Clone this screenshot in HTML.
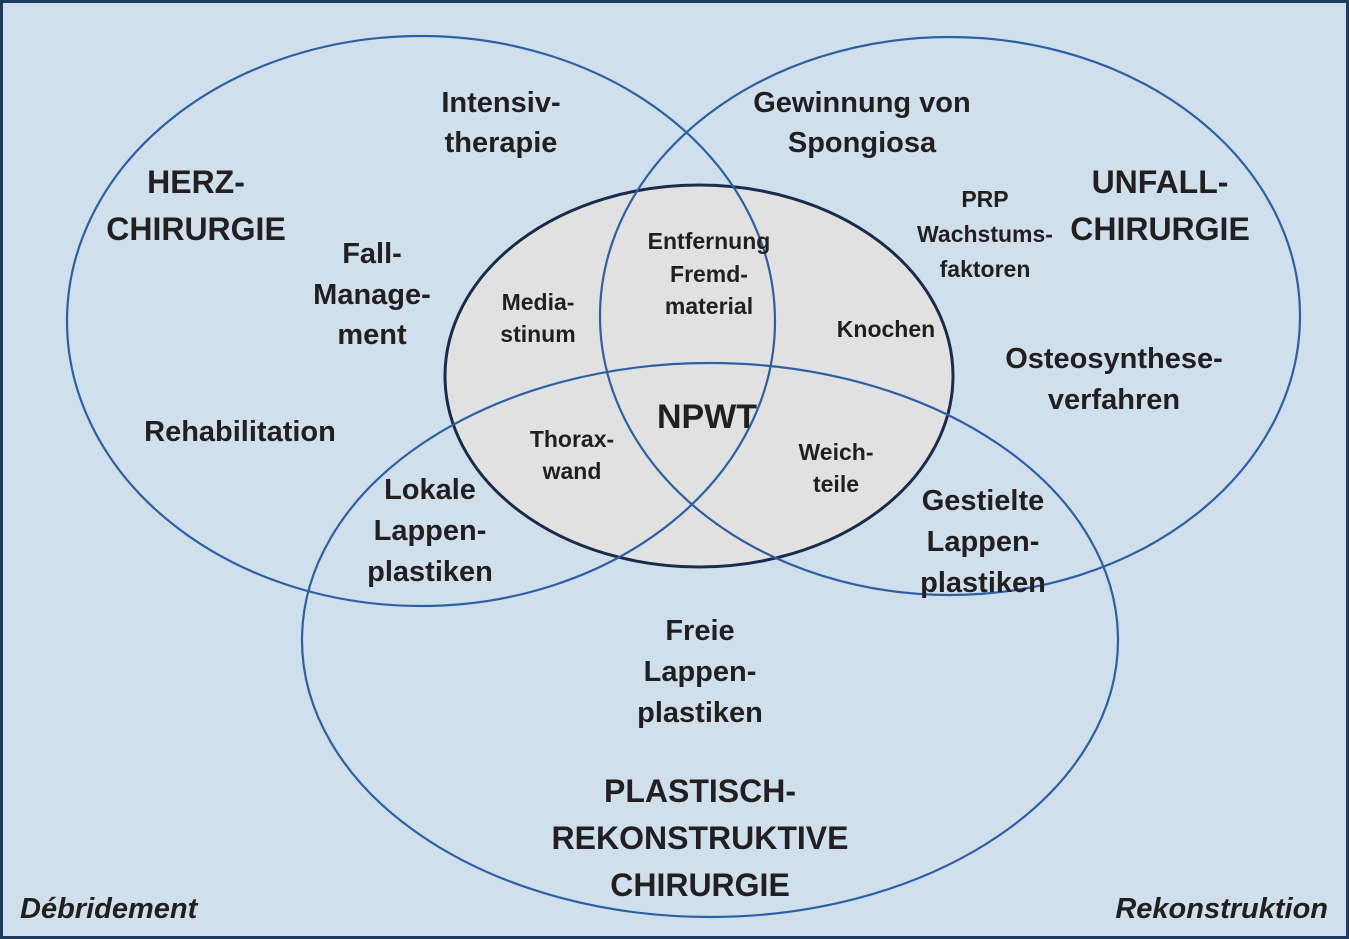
<!DOCTYPE html>
<html><head><meta charset="utf-8"><style>
html,body{margin:0;padding:0;background:#cfe0ec;}
svg{display:block}
text{font-family:"Liberation Sans",sans-serif;font-weight:bold;fill:#231f20;text-anchor:middle}
</style></head><body>
<svg width="1349" height="939" viewBox="0 0 1349 939" xmlns="http://www.w3.org/2000/svg">
<rect x="1.5" y="1.5" width="1346" height="936" fill="#cfe0ec" stroke="#1f3a60" stroke-width="3"/>
<ellipse cx="699" cy="376" rx="254" ry="191" fill="#e1e1e1" stroke="#1b2b4b" stroke-width="3"/>
<g fill="none" stroke="#2f5fa3" stroke-width="2.2">
<ellipse cx="421" cy="321" rx="354" ry="285"/>
<ellipse cx="950" cy="316" rx="350" ry="279"/>
<ellipse cx="710" cy="640" rx="408" ry="277"/>
</g>
<g font-size="32">
<text x="196" y="193">HERZ-</text>
<text x="196" y="240">CHIRURGIE</text>
<text x="1160" y="193">UNFALL-</text>
<text x="1160" y="240">CHIRURGIE</text>
<text x="700" y="802">PLASTISCH-</text>
<text x="700" y="849">REKONSTRUKTIVE</text>
<text x="700" y="896">CHIRURGIE</text>
</g>
<g font-size="29">
<text x="501" y="112">Intensiv-</text>
<text x="501" y="152">therapie</text>
<text x="372" y="263">Fall-</text>
<text x="372" y="304">Manage-</text>
<text x="372" y="344">ment</text>
<text x="240" y="441">Rehabilitation</text>
<text x="862" y="112">Gewinnung von</text>
<text x="862" y="152">Spongiosa</text>
<text x="1114" y="368">Osteosynthese-</text>
<text x="1114" y="409">verfahren</text>
<text x="430" y="499">Lokale</text>
<text x="430" y="540">Lappen-</text>
<text x="430" y="581">plastiken</text>
<text x="983" y="510">Gestielte</text>
<text x="983" y="551">Lappen-</text>
<text x="983" y="592">plastiken</text>
<text x="700" y="640">Freie</text>
<text x="700" y="681">Lappen-</text>
<text x="700" y="722">plastiken</text>
</g>
<g font-size="23">
<text x="985" y="207">PRP</text>
<text x="985" y="242">Wachstums-</text>
<text x="985" y="277">faktoren</text>
<text x="709" y="249">Entfernung</text>
<text x="709" y="282">Fremd-</text>
<text x="709" y="314">material</text>
<text x="538" y="310">Media-</text>
<text x="538" y="342">stinum</text>
<text x="886" y="337">Knochen</text>
<text x="572" y="447">Thorax-</text>
<text x="572" y="479">wand</text>
<text x="836" y="460">Weich-</text>
<text x="836" y="492">teile</text>
</g>
<text x="707" y="428" font-size="34">NPWT</text>
<g font-size="29" font-style="italic">
<text x="20" y="918" style="text-anchor:start">Débridement</text>
<text x="1328" y="918" style="text-anchor:end">Rekonstruktion</text>
</g>
</svg>
</body></html>
